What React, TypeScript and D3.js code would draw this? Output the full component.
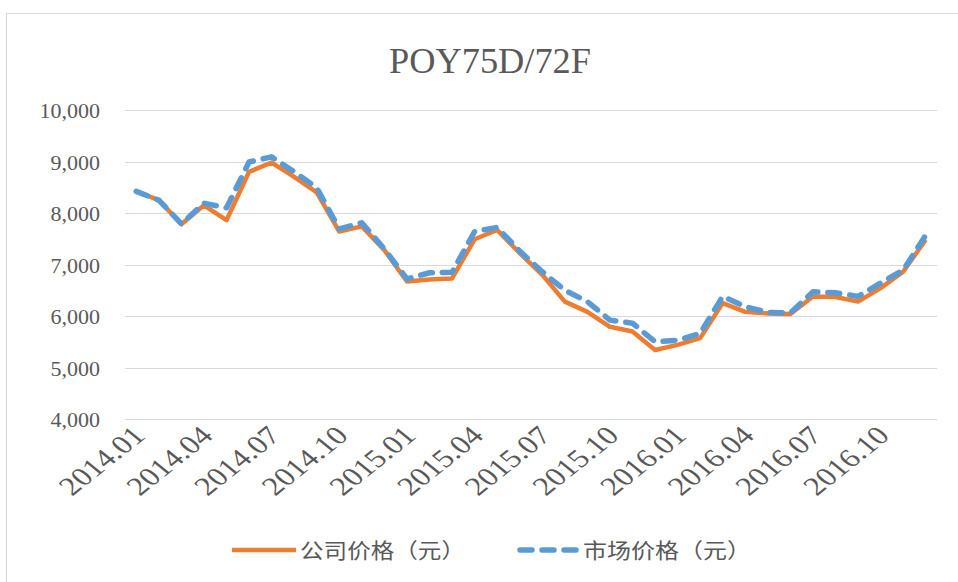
import React, { useEffect, useRef } from 'react';
import * as d3 from 'd3';

const months = [
  '2014.01', '2014.02', '2014.03', '2014.04', '2014.05', '2014.06', '2014.07', '2014.08', '2014.09', '2014.10', '2014.11', '2014.12',
  '2015.01', '2015.02', '2015.03', '2015.04', '2015.05', '2015.06', '2015.07', '2015.08', '2015.09', '2015.10', '2015.11', '2015.12',
  '2016.01', '2016.02', '2016.03', '2016.04', '2016.05', '2016.06', '2016.07', '2016.08', '2016.09', '2016.10', '2016.11', '2016.12',
];

// 公司价格（元）
const companyPrice = [
  8420, 8250, 7780, 8150, 7860, 8800, 8980, 8700, 8400, 7640, 7740, 7280,
  6670, 6710, 6730, 7490, 7670, 7220, 6800, 6280, 6080, 5790, 5700, 5340,
  5440, 5570, 6250, 6080, 6050, 6040, 6380, 6370, 6280, 6540, 6860, 7480,
];

// 市场价格（元）
const marketPrice = [
  8420, 8250, 7790, 8190, 8100, 8990, 9090, 8800, 8490, 7690, 7810, 7300,
  6720, 6840, 6850, 7640, 7720, 7260, 6860, 6500, 6280, 5920, 5860, 5500,
  5530, 5660, 6380, 6180, 6070, 6060, 6470, 6450, 6380, 6640, 6890, 7570,
];

const yTicks = [4000, 5000, 6000, 7000, 8000, 9000, 10000];
const xLabels = ['2014.01', '2014.04', '2014.07', '2014.10', '2015.01', '2015.04', '2015.07', '2015.10', '2016.01', '2016.04', '2016.07', '2016.10'];
const seriesNames = ['公司价格（元）', '市场价格（元）'];

const App = () => {
  const ref = useRef<SVGSVGElement>(null);

  useEffect(() => {
    const svg = d3.select(ref.current);
    svg.selectAll('*').remove();

    const width = 958;
    const height = 582;
    const plot = { left: 125, right: 937, top: 110, bottom: 419 };
    const grey = '#595959';
    const serif = '"Liberation Serif", "Times New Roman", serif';
    const cjk = '"Noto Sans CJK SC", sans-serif';

    // chart frame
    svg.append('rect')
      .attr('x', 6.5).attr('y', 13.5)
      .attr('width', width).attr('height', height)
      .attr('fill', '#fff')
      .attr('stroke', '#d9d9d9');

    // title
    svg.append('text')
      .attr('x', 490).attr('y', 73)
      .attr('text-anchor', 'middle')
      .attr('font-family', serif)
      .attr('font-size', 36)
      .attr('fill', grey)
      .attr('textLength', 202)
      .attr('lengthAdjust', 'spacingAndGlyphs')
      .text('POY75D/72F');

    const x = d3.scalePoint<string>()
      .domain(months)
      .range([plot.left, plot.right])
      .padding(0.5);

    const y = d3.scaleLinear()
      .domain([4000, 10000])
      .range([plot.bottom, plot.top]);

    // gridlines
    svg.append('g')
      .selectAll('line')
      .data(yTicks)
      .enter()
      .append('line')
      .attr('x1', plot.left).attr('x2', plot.right)
      .attr('y1', d => Math.round(y(d)) + 0.5)
      .attr('y2', d => Math.round(y(d)) + 0.5)
      .attr('stroke', '#d9d9d9')
      .attr('stroke-width', 1);

    // y axis labels
    const yAxis = d3.axisLeft(y)
      .tickValues(yTicks)
      .tickFormat(d3.format(','))
      .tickSize(0)
      .tickPadding(0);

    const yg = svg.append('g')
      .attr('transform', `translate(100, 0)`)
      .call(yAxis);
    yg.select('.domain').remove();
    yg.selectAll('text')
      .attr('font-family', serif)
      .attr('font-size', 22)
      .attr('fill', grey)
      .attr('dy', '0.35em');

    // x axis labels
    const xAxis = d3.axisBottom(x)
      .tickValues(xLabels)
      .tickSize(0);

    const xg = svg.append('g')
      .attr('transform', `translate(0, ${plot.bottom})`)
      .call(xAxis);
    xg.select('.domain').remove();
    xg.selectAll('text')
      .attr('font-family', serif)
      .attr('font-size', 26)
      .attr('fill', grey)
      .attr('text-anchor', 'end')
      .attr('y', 0)
      .attr('dy', 0)
      .attr('transform', 'translate(10, 18) scale(1.25, 1) rotate(-45)');

    const line = d3.line<number>()
      .x((d, i) => x(months[i]) as number)
      .y(d => y(d));

    svg.append('path')
      .datum(companyPrice)
      .attr('d', line)
      .attr('fill', 'none')
      .attr('stroke', '#ED7D31')
      .attr('stroke-width', 4.5)
      .attr('stroke-linejoin', 'round');

    svg.append('path')
      .datum(marketPrice)
      .attr('d', line)
      .attr('fill', 'none')
      .attr('stroke', '#5B9BD5')
      .attr('stroke-width', 5.5)
      .attr('stroke-dasharray', '12 10')
      .attr('stroke-linecap', 'round')
      .attr('stroke-linejoin', 'round');

    // legend
    const legend = svg.append('g');
    legend.append('line')
      .attr('x1', 232).attr('x2', 296)
      .attr('y1', 550).attr('y2', 550)
      .attr('stroke', '#ED7D31')
      .attr('stroke-width', 4.5);
    legend.append('text')
      .attr('x', 300).attr('y', 558)
      .attr('font-family', cjk)
      .attr('font-size', 21)
      .attr('fill', grey)
      .attr('textLength', 165)
      .attr('lengthAdjust', 'spacingAndGlyphs')
      .text(seriesNames[0]);

    legend.append('line')
      .attr('x1', 520).attr('x2', 576)
      .attr('y1', 550).attr('y2', 550)
      .attr('stroke', '#5B9BD5')
      .attr('stroke-width', 5.5)
      .attr('stroke-dasharray', '12 10')
      .attr('stroke-linecap', 'round');
    legend.append('text')
      .attr('x', 583).attr('y', 558)
      .attr('font-family', cjk)
      .attr('font-size', 21)
      .attr('fill', grey)
      .attr('textLength', 168)
      .attr('lengthAdjust', 'spacingAndGlyphs')
      .text(seriesNames[1]);
  }, []);

  return (
    <svg
      ref={ref}
      width={958}
      height={582}
      style={{ position: 'absolute', left: 0, top: 0, background: '#fff' }}
    />
  );
};

export default App;
